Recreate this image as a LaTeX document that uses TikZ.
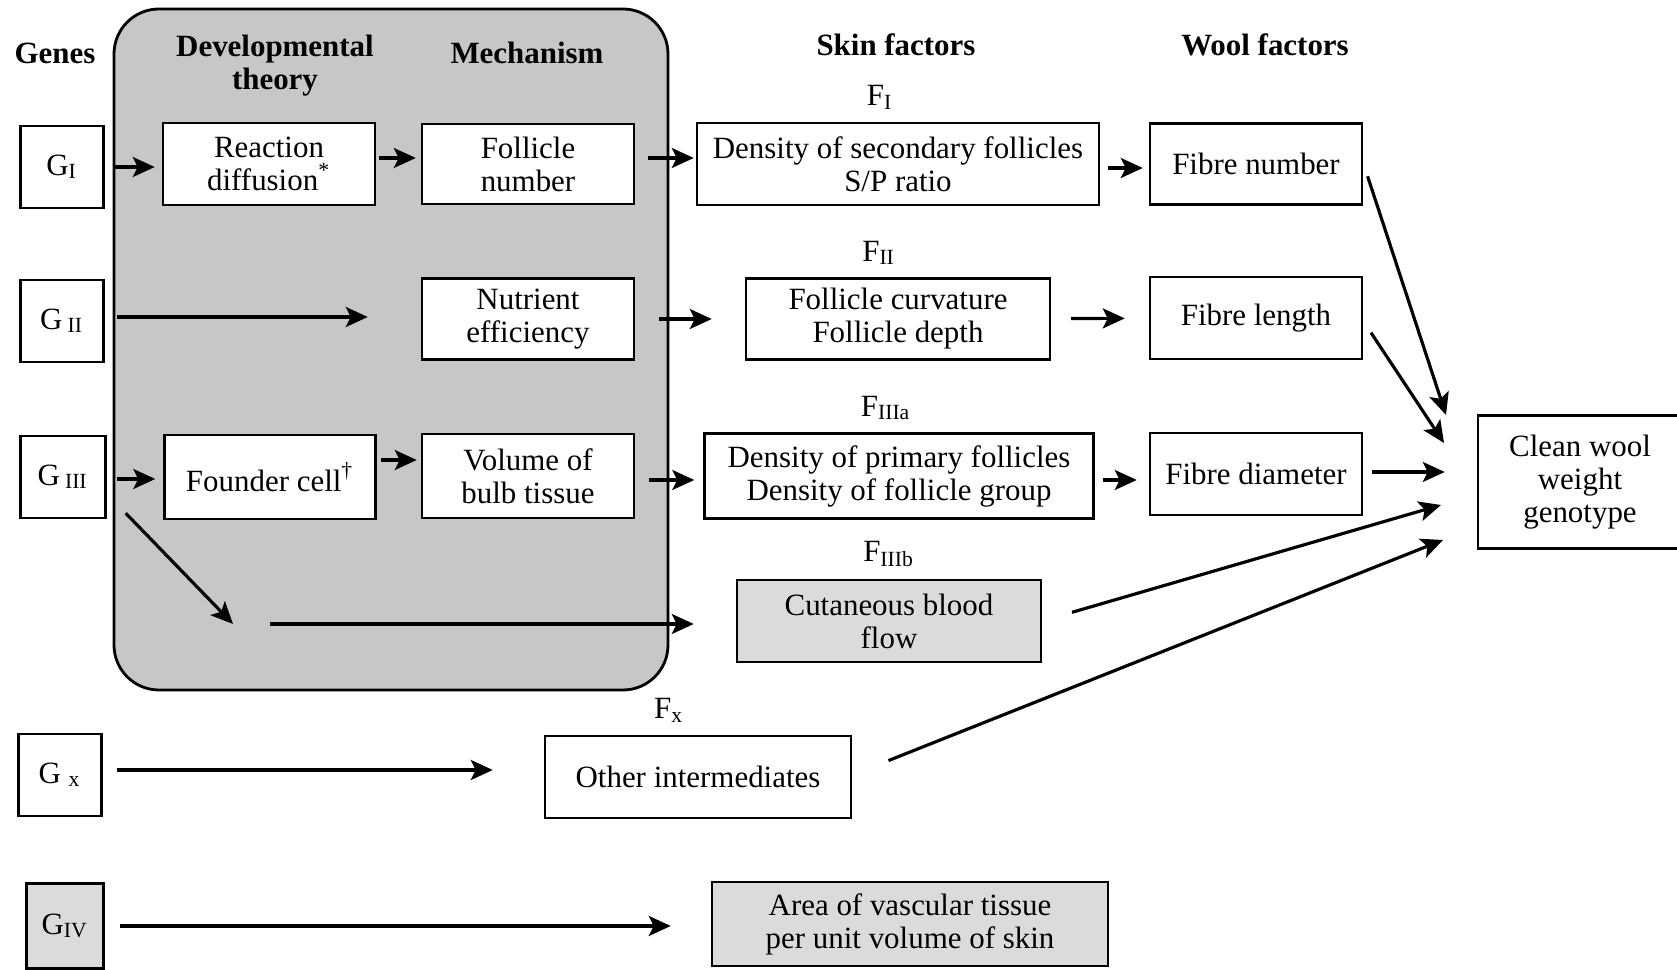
\documentclass[tikz,border=0pt]{standalone}
\usepackage{fontspec}
\setmainfont{Liberation Serif}
\usepackage{tikz}
\usetikzlibrary{arrows.meta, positioning}

\begin{document}
\begin{tikzpicture}[
    x=0.1mm, y=-0.1mm,
    every node/.style={font=\fontsize{8.8}{9.4}\selectfont},
    box/.style={rectangle, draw, line width=0.7pt, fill=white, align=center, inner sep=0pt, minimum height=8.2mm},
    gene/.style={box, minimum width=8.3mm},
    grey/.style={fill=black!14},
    head/.style={font=\fontsize{8.8}{9.4}\selectfont\bfseries, align=center},
    factor/.style={inner sep=0.5pt},
    arrow/.style={-{Stealth[length=2.2mm, width=2mm, inset=0.5mm]}, line width=0.9pt}
]

\useasboundingbox (0,0) rectangle (1677,970);
\fill[white] (0,0) rectangle (1677,970);

% shaded panel for theory and mechanism
\draw[line width=0.8pt, fill=black!22, rounded corners=4.5mm] (114,9) rectangle (668,690);

% Column headings
\node[head] (hgenes) at (55,53) {Genes};
\node[head] (htheory) at (275,66) {Developmental\\theory};
\node[head] (hmech) at (527,53) {Mechanism};
\node[head] (hskin) at (896,45) {Skin factors};
\node[head] (hwool) at (1265,45) {Wool factors};

% Genes
\node[gene] (gI) at (62,167) {G\textsubscript{I}};
\node[gene] (gII) at (62,321) {G\,\textsubscript{II}};
\node[gene, minimum width=8.5mm] (gIII) at (63,477) {G\,\textsubscript{III}};
\node[gene] (gX) at (60,775) {G \textsubscript{x}};
\node[gene, grey, minimum width=7.7mm, minimum height=8.5mm] (gIV) at (65,926) {G\textsubscript{IV}};

% Developmental theory
\node[box, minimum width=21.2mm] (react) at (269,164) {Reaction\\diffusion\textsuperscript{*}};
\node[box, minimum width=21.1mm, minimum height=8.4mm] (founder) at (270,477) {Founder cell\textsuperscript{\dag}};

% Mechanism
\node[box, minimum width=21.2mm, minimum height=8mm] (follnum) at (528,164) {Follicle\\number};
\node[box, minimum width=21.2mm, minimum height=8.1mm] (nutrient) at (528,319) {Nutrient\\efficiency};
\node[box, minimum width=21.2mm, minimum height=8.4mm] (bulb) at (528,476) {Volume of\\bulb tissue};

% Skin factors
\node[box, minimum width=40.2mm] (skinI) at (898,164) {Density of secondary follicles\\S/P ratio};
\node[box, minimum width=30.4mm, minimum height=8.1mm] (skinII) at (898,319) {Follicle curvature\\Follicle depth};
\node[box, minimum width=38.9mm, minimum height=8.5mm] (skinIIIa) at (899,476) {Density of primary follicles\\Density of follicle group};
\node[box, grey, minimum width=30.4mm] (skinIIIb) at (889,621) {Cutaneous blood\\flow};
\node[box, minimum width=30.6mm] (other) at (698,777) {Other intermediates};
\node[box, grey, minimum width=39.6mm, minimum height=8.4mm] (vasc) at (910,924) {Area of vascular tissue\\per unit volume of skin};

\node[factor, above=1mm of skinI, xshift=-1.8mm] (fI) {F\textsubscript{I}};
\node[factor, above=1mm of skinII, xshift=-1.9mm] (fII) {F\textsubscript{II}};
\node[factor, above=1mm of skinIIIa, xshift=-1.3mm] (fIIIa) {F\textsubscript{IIIa}};
\node[factor, above=1mm of skinIIIb] (fIIIb) {F\textsubscript{IIIb}};
\node[factor, above=1mm of other, xshift=-2.9mm] (fX) {F\textsubscript{x}};

% Wool factors
\node[box, minimum width=21.2mm, minimum height=8.1mm] (fnum) at (1256,164) {Fibre number};
\node[box, minimum width=21.2mm] (flen) at (1256,318) {Fibre length};
\node[box, minimum width=21.2mm] (fdiam) at (1256,474) {Fibre diameter};

\node[box, minimum width=20.4mm, minimum height=13.3mm] (clean) at (1580,482) {Clean wool\\weight\\genotype};

% free ends near the genotype box
\coordinate (inA) at (1446,415);
\coordinate (inB) at (1444,443);
\coordinate (inD) at (1441,505);
\coordinate (inE) at (1443,540);
\coordinate (branch) at (233,624);

% Arrows, first row
\draw[arrow, shorten <=1mm, shorten >=0.7mm] (gI.east) -- (gI.east -| react.west);
\draw[arrow, shorten <=0.3mm, shorten >=0.5mm] ([yshift=0.6mm]react.east) -- ([yshift=0.6mm]follnum.west);
\draw[arrow, shorten <=1.3mm, shorten >=0.2mm] ([yshift=0.6mm]follnum.east) -- ([yshift=0.6mm]skinI.west);
\draw[arrow, shorten <=0.8mm, shorten >=0.6mm] ([yshift=-0.4mm]skinI.east) -- ([yshift=-0.4mm]fnum.west);

% second row
\draw[arrow, shorten <=1.2mm, shorten >=5.3mm] ([yshift=0.4mm]gII.east) -- ([yshift=0.4mm]gII.east -| nutrient.west);
\draw[arrow, shorten <=2.4mm, shorten >=3.3mm] (nutrient) -- (skinII);
\draw[arrow, shorten <=2mm, shorten >=2.4mm] (skinII) -- (flen);

% third row
\draw[arrow, shorten <=1mm, shorten >=0.8mm] ([yshift=-0.2mm]gIII.east) -- ([yshift=-0.2mm]gIII.east -| founder.west);
\draw[arrow, shorten <=0.4mm, shorten >=0.4mm] ([yshift=1.7mm]founder.east) -- ([yshift=1.7mm]founder.east -| bulb.west);
\draw[arrow, shorten <=1.4mm, shorten >=0.9mm] ([yshift=-0.4mm]bulb.east) -- ([yshift=-0.4mm]bulb.east -| skinIIIa.west);
\draw[arrow, shorten <=0.8mm, shorten >=1.2mm] ([yshift=-0.4mm]skinIIIa.east) -- ([yshift=-0.4mm]skinIIIa.east -| fdiam.west);
\draw[arrow, shorten <=0.9mm, shorten >=3.2mm] ([yshift=0.2mm]fdiam.east) -- ([yshift=0.2mm]fdiam.east -| clean.west);

% branch to blood flow
\draw[arrow] ([shift={(19,-6)}]gIII.south east) -- (branch);
\draw[arrow, shorten <=3.7mm, shorten >=4.2mm] (branch) -- (branch -| skinIIIb.west);

% lower genes
\draw[arrow, shorten <=1.4mm, shorten >=5.1mm] ([yshift=0.5mm]gX.east) -- ([yshift=0.5mm]gX.east -| other.west);
\draw[arrow, shorten <=1.5mm, shorten >=4mm] (gIV.east) -- (gIV.east -| vasc.west);

% into the genotype
\draw[arrow, shorten <=1.4mm] ([yshift=0.1mm]fnum.east) -- (inA);
\draw[arrow, shorten <=1.4mm] ([yshift=-0.3mm]flen.east) -- (inB);
\draw[arrow, shorten <=3.1mm] (skinIIIb.east) -- (inD);
\draw[arrow, shorten <=3.9mm] ([yshift=0.2mm]other.east) -- (inE);

\end{tikzpicture}
\end{document}
